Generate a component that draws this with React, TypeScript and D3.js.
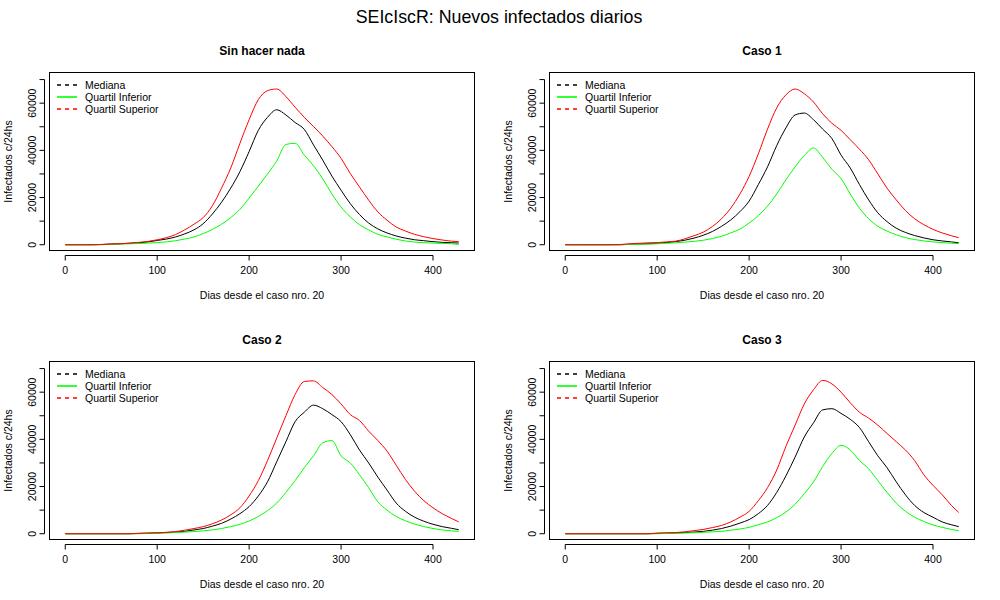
import React from "react";
import * as d3 from "d3";

// ---------- data ----------
const days = [
  0, 10, 20, 30, 40, 50, 60, 70, 80, 90,
  100, 110, 120, 130, 140, 150, 160, 170, 180, 190,
  200, 210, 220, 230, 240, 250, 260, 270, 280, 290,
  300, 310, 320, 330, 340, 350, 360, 370, 380, 390,
  400, 410, 420, 428,
];

// Sin hacer nada
const sinHacerMediana = [
  0, 0, 0, 0, 100, 300, 400, 600, 800, 1200,
  1800, 2400, 3300, 4600, 6300, 8900, 13000, 18000, 24000, 31000,
  39500, 48500, 54000, 57200, 55000, 51800, 48900, 42300, 35900, 29100,
  23100, 17400, 12800, 9200, 6700, 5000, 3700, 2800, 2100, 1700,
  1300, 1000, 850, 700,
];
const sinHacerInferior = [
  0, 0, 0, 0, 0, 200, 300, 400, 500, 700,
  900, 1200, 1700, 2400, 3300, 4700, 6500, 8700, 11500, 15000,
  19800, 24800, 30000, 35500, 42500, 43000, 38000, 33500, 28000, 21500,
  16000, 11800, 8500, 6300, 4400, 3300, 2300, 1600, 1100, 850,
  700, 570, 430, 150,
];
const sinHacerSuperior = [
  0, 0, 0, 0, 100, 300, 400, 700, 1000, 1400,
  2100, 3000, 4300, 6300, 8700, 11500, 16500, 24000, 32500, 43000,
  53000, 61500, 65300, 66000, 62800, 58300, 54000, 50100, 46100, 41600,
  36600, 30200, 24500, 18900, 13900, 10400, 7500, 5800, 4400, 3400,
  2600, 2000, 1500, 1300,
];

// Caso 1
const caso1Mediana = [
  0, 0, 0, 0, 0, 0, 0, 200, 300, 400,
  600, 900, 1300, 1900, 2800, 4000, 5600, 7800, 10500, 14000,
  18500, 25500, 33000, 42000, 49500, 55000, 55800, 53000, 49000, 45000,
  38000, 32500, 25500, 19000, 13500, 9800, 7000, 5200, 3900, 2900,
  2100, 1600, 1200, 800,
];
const caso1Inferior = [
  0, 0, 0, 0, 0, 0, 0, 100, 200, 300,
  400, 600, 800, 1100, 1400, 1900, 2600, 3600, 5000, 6600,
  9200, 12300, 16400, 21500, 27500, 33000, 37800, 41000, 37000, 32000,
  28000, 21500, 15500, 11000, 7800, 5800, 4200, 3000, 2200, 1600,
  1200, 900, 650, 450,
];
const caso1Superior = [
  0, 0, 0, 0, 0, 0, 100, 400, 600, 800,
  900, 1200, 1500, 2500, 3800, 5300, 7700, 11000, 15500, 21500,
  29000, 38500, 49000, 58000, 63500, 66000, 64000, 60500, 55500, 51500,
  48500, 44500, 40500, 36000, 30000, 24000, 19000, 14500, 11000, 8500,
  6500, 5000, 3800, 3000,
];

// Caso 2
const caso2Mediana = [
  0, 0, 0, 0, 0, 0, 0, 0, 100, 200,
  300, 500, 700, 1000, 1600, 2200, 3200, 4400, 6200, 8500,
  11500, 16000, 22000, 30500, 39000, 47500, 51500, 54500, 53000, 50500,
  47500, 42000, 35500, 30000, 24000, 18500, 13000, 9500, 7000, 5300,
  4000, 3000, 2300, 1700,
];
const caso2Inferior = [
  0, 0, 0, 0, 0, 0, 0, 0, 0, 100,
  200, 300, 500, 700, 900, 1200, 1600, 2200, 3000, 4000,
  5400, 7300, 9800, 13000, 17500, 22500, 28000, 33000, 38500, 39500,
  33000, 30000, 25000, 19500, 13500, 10000, 7300, 5500, 4100, 3000,
  2200, 1600, 1200, 1000,
];
const caso2Superior = [
  0, 0, 0, 0, 0, 0, 0, 0, 200, 300,
  400, 600, 900, 1500, 2200, 3000, 4200, 5800, 8000, 11000,
  16000, 22500, 31000, 40500, 50000, 59000, 64500, 64800, 62000, 59000,
  55000, 50500, 48000, 43500, 39500, 35000, 29000, 23000, 18000, 14000,
  11000, 8500, 6500, 5000,
];

// Caso 3
const caso3Mediana = [
  0, 0, 0, 0, 0, 0, 0, 0, 0, 0,
  100, 200, 300, 500, 700, 1000, 1500, 2200, 3200, 4500,
  6000, 8500, 12000, 17500, 24500, 32500, 41000, 47000, 52500, 53000,
  51000, 48500, 45000, 39000, 33000, 28000, 22000, 16500, 12000, 9000,
  7000, 5000, 3800, 3000,
];
const caso3Inferior = [
  0, 0, 0, 0, 0, 0, 0, 0, 0, 0,
  0, 100, 200, 300, 400, 600, 800, 1000, 1500, 2000,
  2700, 3800, 5000, 6800, 9200, 12500, 17000, 22000, 28500, 34000,
  37500, 35500, 31000, 27500, 22500, 17500, 13000, 9500, 7000, 5200,
  3700, 2700, 1800, 1300,
];
const caso3Superior = [
  0, 0, 0, 0, 0, 0, 0, 0, 0, 0,
  300, 400, 500, 800, 1300, 1800, 2600, 3500, 5000, 7000,
  9500, 14000, 19500, 27000, 37000, 46000, 55000, 61000, 65000, 63500,
  60000, 55500, 51500, 49000, 46000, 42500, 39000, 35500, 31000, 25000,
  20500, 16500, 12000, 9000,
];

const panelTitles = ["Sin hacer nada", "Caso 1", "Caso 2", "Caso 3"];
const seriesNames = ["Mediana", "Quartil Inferior", "Quartil Superior"];
const seriesColors = ["#000000", "#00ff00", "#ff0000"];
const seriesDash = ["4,4", "none", "4,4"];
const xTickValues = [0, 100, 200, 300, 400];
const yTickValues = [0, 10000, 20000, 30000, 40000, 50000, 60000, 70000];
const yLabelValues = [0, 20000, 40000, 60000];

const mainTitle = "SEIcIscR: Nuevos infectados diarios";
const xAxisTitle = "Dias desde el caso nro. 20";
const yAxisTitle = "Infectados c/24hs";

const FONT = "'Liberation Sans', Arial, Helvetica, sans-serif";

const BOX_W = 425;
const BOX_H = 178;

type PanelProps = {
  left: number;
  top: number;
  title: string;
  series: number[][];
};

function Panel({ left, top, title, series }: PanelProps) {
  const x = d3.scaleLinear().domain([-17.12, 445.12]).range([left, left + BOX_W]);
  const y = d3.scaleLinear().domain([-2450, 73000]).range([top + BOX_H, top]);
  const bottom = top + BOX_H;
  const cx = left + BOX_W / 2;
  const line = d3
    .line<number>()
    .x((_, i) => x(days[i]))
    .y((v) => y(v))
    .curve(d3.curveMonotoneX);

  const axisX = left - 5;
  const axisY = bottom + 5;

  return (
    <g>
      <text x={cx} y={top - 18} textAnchor="middle" fontSize={12} fontWeight="bold" fontFamily={FONT}>
        {title}
      </text>

      {series.map((vals, i) => (
        <path key={i} d={line(vals) || ""} fill="none" stroke={seriesColors[i]} strokeWidth={1} />
      ))}

      <rect x={left} y={top} width={BOX_W} height={BOX_H} fill="none" stroke="#000" strokeWidth={1} />

      <line x1={axisX} x2={axisX} y1={y(yTickValues[0])} y2={y(yTickValues[yTickValues.length - 1])} stroke="#000" />
      {yTickValues.map((t) => (
        <line key={t} x1={axisX} x2={axisX - 5} y1={y(t)} y2={y(t)} stroke="#000" />
      ))}
      {yLabelValues.map((t) => (
        <text
          key={t}
          transform={`translate(${left - 17.5},${y(t)}) rotate(-90)`}
          textAnchor="middle"
          dy="0.35em"
          fontSize={10.5}
          fontFamily={FONT}
        >
          {t}
        </text>
      ))}

      <line x1={x(xTickValues[0])} x2={x(xTickValues[xTickValues.length - 1])} y1={axisY} y2={axisY} stroke="#000" />
      {xTickValues.map((t) => (
        <g key={t}>
          <line x1={x(t)} x2={x(t)} y1={axisY} y2={axisY + 5} stroke="#000" />
          <text x={x(t)} y={bottom + 23} textAnchor="middle" fontSize={10.5} fontFamily={FONT}>
            {t}
          </text>
        </g>
      ))}

      <text x={cx} y={bottom + 48} textAnchor="middle" fontSize={10.5} fontFamily={FONT}>
        {xAxisTitle}
      </text>
      <text
        transform={`translate(${left - 41},${top + BOX_H / 2}) rotate(-90)`}
        textAnchor="middle"
        dy="0.35em"
        fontSize={10.5}
        fontFamily={FONT}
      >
        {yAxisTitle}
      </text>

      {seriesNames.map((name, i) => {
        const ly = Math.round(top + 12 + i * 12);
        return (
          <g key={name}>
            <path
              d={`M${left + 7.5},${ly}H${left + 27.5}`}
              fill="none"
              stroke={seriesColors[i]}
              strokeWidth={1.6}
              strokeDasharray={seriesDash[i]}
            />
            <text x={left + 35.5} y={ly + 3.8} fontSize={10.5} fontFamily={FONT}>
              {name}
            </text>
          </g>
        );
      })}
    </g>
  );
}

export default function App() {
  const panelSeries = [
    [sinHacerMediana, sinHacerInferior, sinHacerSuperior],
    [caso1Mediana, caso1Inferior, caso1Superior],
    [caso2Mediana, caso2Inferior, caso2Superior],
    [caso3Mediana, caso3Inferior, caso3Superior],
  ];
  const lefts = [49.5, 549.5, 49.5, 549.5];
  const tops = [72.5, 72.5, 361.5, 361.5];
  return (
    <svg
      width={1000}
      height={600}
      style={{ position: "absolute", left: 0, top: 0, background: "#fff" }}
    >
      <rect x={0} y={0} width={1000} height={600} fill="#fff" />
      <text x={499} y={22.5} textAnchor="middle" fontSize={17.8} fontFamily={FONT}>
        {mainTitle}
      </text>
      {panelTitles.map((t, i) => (
        <Panel key={t} left={lefts[i]} top={tops[i]} title={t} series={panelSeries[i]} />
      ))}
    </svg>
  );
}
